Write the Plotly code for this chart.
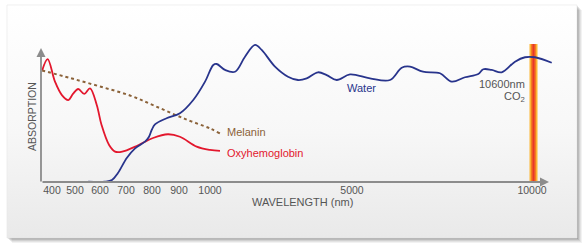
import numpy as np
import plotly.graph_objects as go

W, H = 587, 250

# ---- axis scale (schematic, piecewise) ----
AXIS_NM = [350, 400, 500, 600, 700, 800, 900, 1000, 5000, 10000, 10600, 12000]
AXIS_POS = [40.5, 52, 75, 100, 126, 152, 179, 210, 352, 532, 533.5, 552]
TICK_NM = [400, 500, 600, 700, 800, 900, 1000, 5000, 10000]
TICK_TEXT = ["400", "500", "600", "700", "800", "900", "1000", "5000", "10000"]

# ---- data (relative absorption, 0..100) ----
oxy_nm = [358, 381, 413, 443, 471, 491, 513, 537, 560, 587, 606, 635, 658, 677, 696,
          741, 804, 859, 903, 957, 1000, 1282]
oxy_abs = [81.2, 89.1, 72.7, 63.0, 59.4, 63.8, 67.4, 63.8, 67.9, 55.8, 41.3, 26.8, 22.0,
           21.7, 22.5, 26.1, 31.9, 34.6, 32.8, 25.6, 23.2, 22.5]

mel_nm = [357, 478, 600, 715, 811, 919, 1000, 1282]
mel_abs = [80.8, 75.4, 69.2, 62.7, 55.1, 45.7, 38.8, 35.1]

water_nm = [553, 619, 646, 669, 703, 735, 773, 788, 799, 811,
            854, 903, 946, 984, 1093, 1189, 1423, 1704, 1986, 2268,
            2456, 2831, 3197, 3479, 3724, 4042, 4287, 4569, 4944, 5500,
            6056, 6381, 6611, 6972, 7444, 7770, 8139, 8508, 8647, 8881,
            9158, 9528, 9806, 10714, 11978]
water_abs = [0.2, 0.2, 1.4, 6.5, 17.4, 24.4, 29.2, 32.6, 37.7, 41.8,
             46.2, 49.8, 59.4, 72.7, 84.8, 85.5, 81.2, 79.9, 90.8, 99.3,
             95.7, 83.6, 76.3, 73.9, 75.1, 79.5, 77.5, 73.9, 78.0, 75.1,
             73.9, 82.8, 83.6, 79.9, 78.8, 72.7, 75.9, 78.3, 81.7, 81.2,
             79.5, 87.2, 90.4, 90.4, 86.4]

CO2_NM = 10600


def to_t(nm):
    return np.interp(np.asarray(nm, dtype=float), AXIS_NM, AXIS_POS)


def px(x):
    return x / W


def py(y):
    return 1 - y / H


FONT = "Liberation Sans, Arial, sans-serif"
GRAY = "#8c8c8c"
TXT = "#555555"
RED = "#e3172d"
BLUE = "#28348c"
BROWN = "#8b6239"

fig = go.Figure()

# background panel (pixel space subplot)
fig.add_trace(go.Scatter(
    x=[7, 577, 577, 7, 7], y=[H - 5, H - 5, H - 238, H - 238, H - 5],
    fill="toself", mode="lines", line=dict(color="#e6e6e6", width=0.6),
    fillgradient=dict(type="vertical",
                      colorscale=[[0, "#e9e9e9"], [0.45, "#f7f7f7"], [1, "#ffffff"]]),
    hoverinfo="skip", showlegend=False, xaxis="x", yaxis="y"))

# CO2 laser line
for wdt, col in [(8, "#fbb533"), (5, "#f47a22"), (2, "#e8352b")]:
    fig.add_trace(go.Scatter(
        x=to_t([CO2_NM, CO2_NM]), y=[0, 100], mode="lines",
        line=dict(color=col, width=wdt), hoverinfo="skip", showlegend=False,
        xaxis="x2", yaxis="y2"))

fig.add_trace(go.Scatter(
    x=to_t(mel_nm), y=mel_abs, mode="lines",
    line=dict(color=BROWN, width=2, dash="3px,3px", shape="spline"),
    showlegend=False, xaxis="x2", yaxis="y2", name="Melanin"))
fig.add_trace(go.Scatter(
    x=to_t(oxy_nm), y=oxy_abs, mode="lines",
    line=dict(color=RED, width=1.8, shape="spline"),
    showlegend=False, xaxis="x2", yaxis="y2", name="Oxyhemoglobin"))
fig.add_trace(go.Scatter(
    x=to_t(water_nm), y=water_abs, mode="lines",
    line=dict(color=BLUE, width=1.8, shape="spline"),
    showlegend=False, xaxis="x2", yaxis="y2", name="Water"))

# shadow of the panel
shapes = []
for off, op in [(5, 0.05), (4, 0.06), (3, 0.08), (2, 0.10), (1, 0.12)]:
    shapes.append(dict(type="rect", xref="paper", yref="paper",
                       x0=px(7 + off), x1=px(577 + off), y0=py(238 + off), y1=py(5 + off),
                       fillcolor=f"rgba(0,0,0,{op})", line=dict(width=0), layer="below"))


def label(x, y, text, color, xanchor="center", size=11, angle=0):
    return dict(xref="paper", yref="paper", x=px(x), y=py(y), text=text,
                xanchor=xanchor, yanchor="middle", textangle=angle, showarrow=False,
                font=dict(family=FONT, size=size, color=color))


annotations = [
    # axes with arrowheads
    dict(xref="paper", yref="paper", x=px(549), y=py(182), axref="pixel", ayref="pixel",
         ax=-508, ay=0, showarrow=True, arrowhead=2, arrowsize=1, arrowwidth=1.8,
         arrowcolor=GRAY, text=""),
    dict(xref="paper", yref="paper", x=px(41), y=py(48), axref="pixel", ayref="pixel",
         ax=0, ay=135, showarrow=True, arrowhead=2, arrowsize=1, arrowwidth=1.8,
         arrowcolor=GRAY, text=""),
    label(302, 202, "WAVELENGTH (nm)", TXT),
    label(32, 117, "ABSORPTION", TXT, size=10.5, angle=-90),
    label(361, 88, "Water", BLUE),
    label(225, 132, "Melanin", BROWN, xanchor="left"),
    label(225, 153, "Oxyhemoglobin", RED, xanchor="left"),
    label(527, 84, "10600nm", TXT, xanchor="right"),
    label(527, 97, "CO<sub>2</sub>", TXT, xanchor="right"),
]

fig.update_layout(
    width=W, height=H, margin=dict(l=0, r=0, t=0, b=0),
    paper_bgcolor="white", plot_bgcolor="rgba(0,0,0,0)",
    xaxis=dict(domain=[0, 1], range=[0, W], visible=False, fixedrange=True),
    yaxis=dict(domain=[0, 1], range=[0, H], visible=False, fixedrange=True),
    xaxis2=dict(domain=[px(41), px(556)], range=[41, 556], anchor="y2",
                showgrid=False, zeroline=False, showline=False,
                tickmode="array", tickvals=to_t(TICK_NM).tolist(), ticktext=TICK_TEXT,
                ticks="", tickfont=dict(family=FONT, size=10.5, color=TXT)),
    yaxis2=dict(domain=[py(182), py(44)], range=[0, 100], anchor="x2",
                showgrid=False, zeroline=False, showline=False, showticklabels=False),
    shapes=shapes, annotations=annotations, showlegend=False,
)

fig.write_html("out.html")
